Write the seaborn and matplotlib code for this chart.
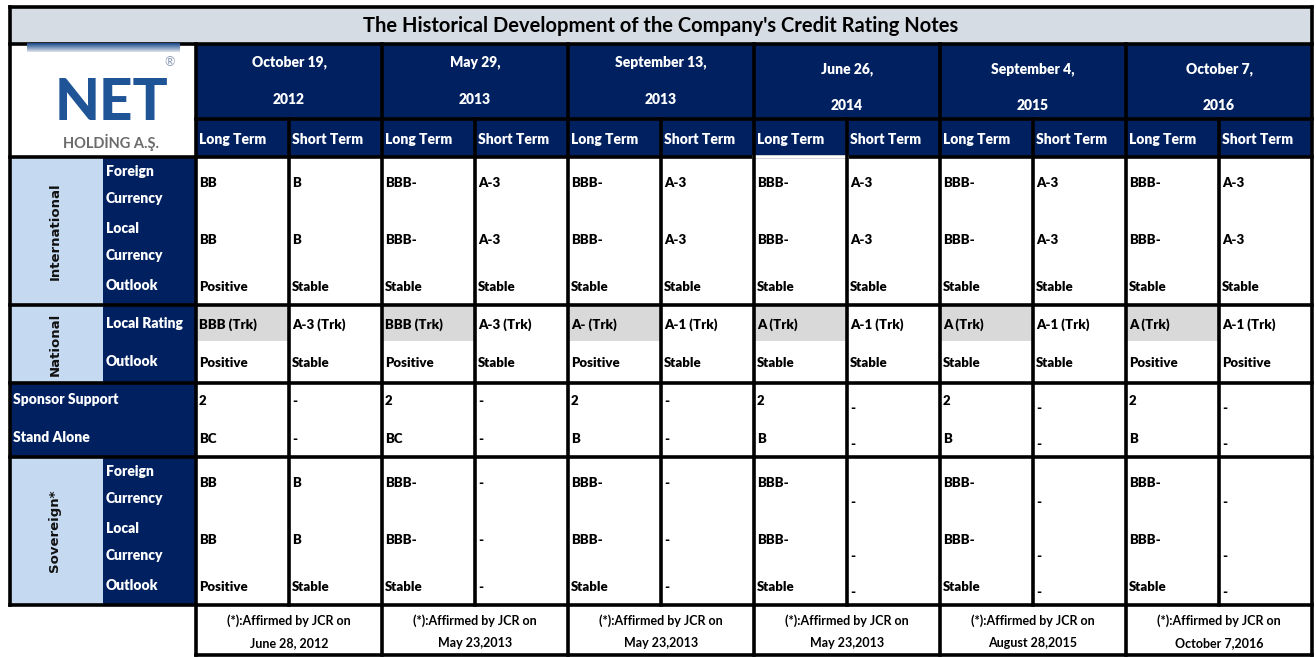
import matplotlib
matplotlib.use("Agg")
import matplotlib.pyplot as plt
import numpy as np
import seaborn as sns
from matplotlib.colors import ListedColormap, to_rgb
from matplotlib.patches import Rectangle

# ---- table content ----
TITLE = "The Historical Development of the Company's Credit Rating Notes"
date_labels = ["October 19,", "May 29,", "September 13,", "June 26,", "September 4,", "October 7,"]
date_years = ["2012", "2013", "2013", "2014", "2015", "2016"]
term_labels = ["Long Term", "Short Term"]
section_labels = ["International", "National", "Sovereign*"]
currency_labels = ["Foreign\nCurrency", "Local\nCurrency", "Outlook"]
national_labels = ["Local Rating", "Outlook"]
support_labels = ["Sponsor Support", "Stand Alone"]

intl_foreign = ["BB", "B", "BBB-", "A-3", "BBB-", "A-3", "BBB-", "A-3", "BBB-", "A-3", "BBB-", "A-3"]
intl_local = ["BB", "B", "BBB-", "A-3", "BBB-", "A-3", "BBB-", "A-3", "BBB-", "A-3", "BBB-", "A-3"]
intl_outlook = ["Positive", "Stable", "Stable", "Stable", "Stable", "Stable",
                "Stable", "Stable", "Stable", "Stable", "Stable", "Stable"]
nat_rating = ["BBB (Trk)", "A-3 (Trk)", "BBB (Trk)", "A-3 (Trk)", "A- (Trk)", "A-1 (Trk)",
              "A (Trk)", "A-1 (Trk)", "A (Trk)", "A-1 (Trk)", "A (Trk)", "A-1 (Trk)"]
nat_outlook = ["Positive", "Stable", "Positive", "Stable", "Positive", "Stable",
               "Stable", "Stable", "Stable", "Stable", "Positive", "Positive"]
sponsor_support = ["2", "-", "2", "-", "2", "-", "2", "-", "2", "-", "2", "-"]
stand_alone = ["BC", "-", "BC", "-", "B", "-", "B", "-", "B", "-", "B", "-"]
sov_foreign = ["BB", "B", "BBB-", "-", "BBB-", "-", "BBB-", "-", "BBB-", "-", "BBB-", "-"]
sov_local = ["BB", "B", "BBB-", "-", "BBB-", "-", "BBB-", "-", "BBB-", "-", "BBB-", "-"]
sov_outlook = ["Positive", "Stable", "Stable", "-", "Stable", "-", "Stable", "-", "Stable", "-", "Stable", "-"]
affirmed_note = "(*):Affirmed by JCR on"
affirmed_dates = ["June 28, 2012", "May 23,2013", "May 23,2013", "May 23,2013",
                  "August 28,2015", "October 7,2016"]

# ---- styling / layout ----
NAVY = "#002060"
LIGHT_BLUE = "#C5D9F1"
TITLE_GRAY = "#D6DCE4"
CELL_GRAY = "#D9D9D9"
LOGO_BLUE = "#1F5596"
fills = ["white", NAVY, LIGHT_BLUE, TITLE_GRAY, CELL_GRAY]

W, H = 1316, 657
X0, Y0, TABLE_W, TABLE_H = 10, 7, 1302, 648
N_COLS = 14
COL_PX = TABLE_W / N_COLS
LW = 2.6
FONT = "Lato"
WEIGHT = "heavy"

body = [0] * 12
rows = [
    dict(h=37, fill=[3] * 14),
    dict(h=75, fill=[0, 0] + [1] * 12),
    dict(h=38, fill=[0, 0] + [1] * 12, ty=20),
    dict(h=53, fill=[2, 1] + body, ty=26, values=intl_foreign, label=currency_labels[0]),
    dict(h=52, fill=[2, 1] + body, ty=30, values=intl_local, label=currency_labels[1]),
    dict(h=43, fill=[2, 1] + body, ty=25, values=intl_outlook, label=currency_labels[2]),
    dict(h=36, fill=[2, 1] + [4, 0] * 6, ty=20, values=nat_rating, label=national_labels[0]),
    dict(h=42, fill=[2, 1] + body, ty=22, values=nat_outlook, label=national_labels[1]),
    dict(h=37, fill=[1, 1] + body, ty=18, values=sponsor_support, label=support_labels[0], label_col=0, late=7),
    dict(h=37, fill=[1, 1] + body, ty=19, values=stand_alone, label=support_labels[1], label_col=0, late=5),
    dict(h=53, fill=[2, 1] + body, ty=26, values=sov_foreign, label=currency_labels[0], late=19),
    dict(h=52, fill=[2, 1] + body, ty=30, values=sov_local, label=currency_labels[1], late=16),
    dict(h=43, fill=[2, 1] + body, ty=25, values=sov_outlook, label=currency_labels[2], late=5),
    dict(h=50, fill=[0] * 14),
]
heights = [r["h"] for r in rows]
bounds = np.concatenate([[0], np.cumsum(heights)])
sections = [(3, 6), (6, 8), (10, 13)]  # row ranges of the vertical labels

sns.set_theme(style="white")
plt.rcParams["font.family"] = [FONT, "DejaVu Sans"]

fig = plt.figure(figsize=(W / 100, H / 100), dpi=100)
ax = fig.add_axes([X0 / W, 1 - (Y0 + TABLE_H) / H, TABLE_W / W, TABLE_H / H])

# cell backgrounds: one heatmap row per pixel row of the band
fill_matrix = np.repeat(np.array([r["fill"] for r in rows]), heights, axis=0)
sns.heatmap(fill_matrix, ax=ax, cmap=ListedColormap(fills), vmin=-0.5, vmax=len(fills) - 0.5,
            cbar=False, xticklabels=False, yticklabels=False)
ax.set_axis_off()


def px(dx):
    return dx / COL_PX


def line(xs, ys, color="black"):
    ax.plot(xs, ys, color=color, lw=LW, solid_capstyle="projecting", clip_on=False, zorder=3)


# borders
for i in (0, 1, 3, 6, 8, 10, 13):
    line([0, N_COLS], [bounds[i]] * 2)
line([2, N_COLS], [bounds[2]] * 2)
line([2, N_COLS], [bounds[-1]] * 2)
line([8, 9], [bounds[3]] * 2, color="white")
line([0, 0], [0, bounds[13]])
line([N_COLS, N_COLS], [0, bounds[-1]])
for c in range(2, N_COLS, 2):
    line([c, c], [bounds[1], bounds[-1]])
for c in range(3, N_COLS, 2):
    line([c, c], [bounds[2], bounds[13]])

# title
ax.text(N_COLS / 2, 19, TITLE, ha="center", va="center", fontsize=14.5, weight="bold",
        color="black")

# logo
top, bot = np.array(to_rgb("#1F4E8C")), np.array(to_rgb("#D5DDE8"))
for k in range(9):
    col = top + (bot - top) * k / 8
    ax.add_patch(Rectangle((px(17), 36 + k), px(153), 1, color=col, lw=0, zorder=4))
ax.text(px(102), 113, "NET", ha="center", va="baseline", fontsize=42, weight="black",
        color=LOGO_BLUE, zorder=4)
ax.text(px(160), 55, "\u00ae", ha="center", va="center", fontsize=9, color="#8A9BB5", zorder=4)
ax.text(px(101), 135, "HOLD\u0130NG A.\u015e.", ha="center", va="center", fontsize=10.5,
        weight="bold", color="#6B6B6B", zorder=4)

# date headers
for i, (d, y) in enumerate(zip(date_labels, date_years)):
    shift = 7 if i >= 3 else 0
    xc = 2 + 2 * i + 1
    ax.text(xc, bounds[1] + 18 + shift, d, ha="center", va="center", fontsize=10,
            weight=WEIGHT, color="white")
    ax.text(xc, bounds[1] + 55 + shift, y, ha="center", va="center", fontsize=10,
            weight=WEIGHT, color="white")
    for j, t in enumerate(term_labels):
        ax.text(2 + 2 * i + j + px(3), bounds[2] + rows[2]["ty"], t, ha="left", va="center",
                fontsize=10, weight=WEIGHT, color="white")

# body rows
for r, y0 in zip(rows, bounds[:-1]):
    if "values" not in r:
        continue
    yc = y0 + r["ty"]
    lines = r["label"].split("\n")
    lc = r.get("label_col", 1)
    for k, t in enumerate(lines):
        ly = yc + (2 if len(lines) > 1 else -1) + (k - (len(lines) - 1) / 2) * 27
        ax.text(lc + px(3), ly, t, ha="left", va="center", fontsize=10, weight=WEIGHT, color="white")
    for i, v in enumerate(r["values"]):
        dy = r.get("late", 0) if (i >= 6 and i % 2 == 1) else 0
        ax.text(2 + i + px(3), yc + dy, v, ha="left", va="center", fontsize=9.5,
                weight=WEIGHT, color="black")

# vertical section labels
for name, (a, b) in zip(section_labels, sections):
    ax.text(px(45), (bounds[a] + bounds[b]) / 2, name, rotation=90, ha="center", va="center",
            fontsize=9.5, weight="bold", family="DejaVu Sans", color="#111111")

# footer notes
for i, d in enumerate(affirmed_dates):
    xc = 2 + 2 * i + 1
    ax.text(xc, bounds[13] + 16, affirmed_note, ha="center", va="center", fontsize=9,
            weight="bold", color="black")
    ax.text(xc, bounds[13] + 38, d, ha="center", va="center", fontsize=9,
            weight="bold", color="black")

fig.savefig("out.png", dpi=100)
